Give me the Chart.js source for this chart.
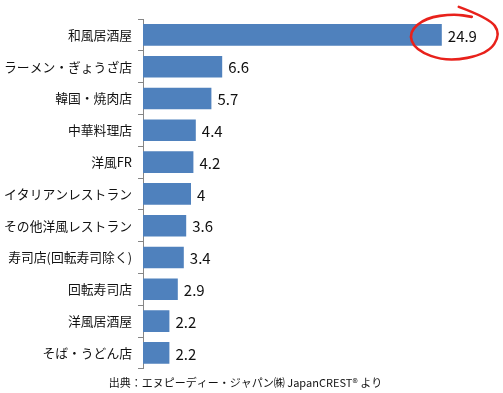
<!DOCTYPE html>
<html>
<head>
<meta charset="utf-8">
<script src="https://cdn.jsdelivr.net/npm/chart.js"></script>
<style>
  html, body { margin: 0; padding: 0; background: #fff; }
  #wrap { width: 503px; height: 393px; position: relative; }
</style>
</head>
<body>
<div id="wrap"><canvas id="chart"></canvas></div>
<script>
const categories = ['和風居酒屋', 'ラーメン・ぎょうざ店', '韓国・焼肉店', '中華料理店', '洋風FR',
  'イタリアンレストラン', 'その他洋風レストラン', '寿司店(回転寿司除く)', '回転寿司店', '洋風居酒屋', 'そば・うどん店'];
const values = [24.9, 6.6, 5.7, 4.4, 4.2, 4, 3.6, 3.4, 2.9, 2.2, 2.2];
const sourceNote = '出典：エヌピーディー・ジャパン㈱ JapanCREST® より';
const fontJP = '"Noto Sans CJK JP", "Noto Sans", sans-serif';

// value labels at the end of each bar, and the red ring round the top one
const valueLabels = {
  id: 'valueLabels',
  afterDatasetsDraw(chart) {
    const ctx = chart.ctx;
    const meta = chart.getDatasetMeta(0);
    ctx.save();
    ctx.font = '15px ' + fontJP;
    ctx.fillStyle = '#111';
    ctx.textBaseline = 'middle';
    meta.data.forEach((bar, i) => {
      ctx.fillText(String(values[i]), bar.x + 6, bar.y + 1);
    });

    // hand-drawn ring round the biggest value, offsets from the bar end
    const top = meta.data[0];
    const pts = [[17, -28], [47, -17], [59, -1], [46, 19], [5, 27], [-27, 15], [-33, -3],
      [-16, -17], [12, -21], [30, -18]];
    ctx.strokeStyle = '#e8211b';
    ctx.lineWidth = 2.6;
    ctx.lineCap = 'round';
    ctx.beginPath();
    ctx.moveTo(top.x + pts[0][0], top.y + pts[0][1]);
    for (let i = 1; i < pts.length - 1; i++) {
      const mx = (pts[i][0] + pts[i + 1][0]) / 2, my = (pts[i][1] + pts[i + 1][1]) / 2;
      ctx.quadraticCurveTo(top.x + pts[i][0], top.y + pts[i][1], top.x + mx, top.y + my);
    }
    const last = pts[pts.length - 1];
    ctx.lineTo(top.x + last[0], top.y + last[1]);
    ctx.stroke();
    ctx.restore();
  }
};

new Chart(document.getElementById('chart'), {
  type: 'bar',
  data: {
    labels: categories,
    datasets: [{
      data: values,
      backgroundColor: '#4f81bd',
      barPercentage: 0.68,
      categoryPercentage: 1
    }]
  },
  options: {
    indexAxis: 'y',
    responsive: true,
    maintainAspectRatio: false,
    animation: false,
    layout: { padding: { top: 19, right: 12, left: 0, bottom: 4 } },
    plugins: {
      legend: { display: false },
      tooltip: { enabled: false },
      title: {
        display: true,
        position: 'bottom',
        text: sourceNote,
        color: '#111',
        font: { size: 11, family: fontJP, weight: 'normal' },
        padding: { top: 7, bottom: 0 }
      }
    },
    scales: {
      x: {
        display: false,
        min: 0,
        max: 29
      },
      y: {
        afterFit(scale) { scale.width = 143; },
        border: { color: '#868686', width: 1 },
        grid: { offset: true, drawOnChartArea: false, tickLength: 5, color: '#868686' },
        ticks: {
          color: '#111',
          padding: 6,
          font: { size: 12.8, family: fontJP }
        }
      }
    }
  },
  plugins: [valueLabels]
});
</script>
</body>
</html>
